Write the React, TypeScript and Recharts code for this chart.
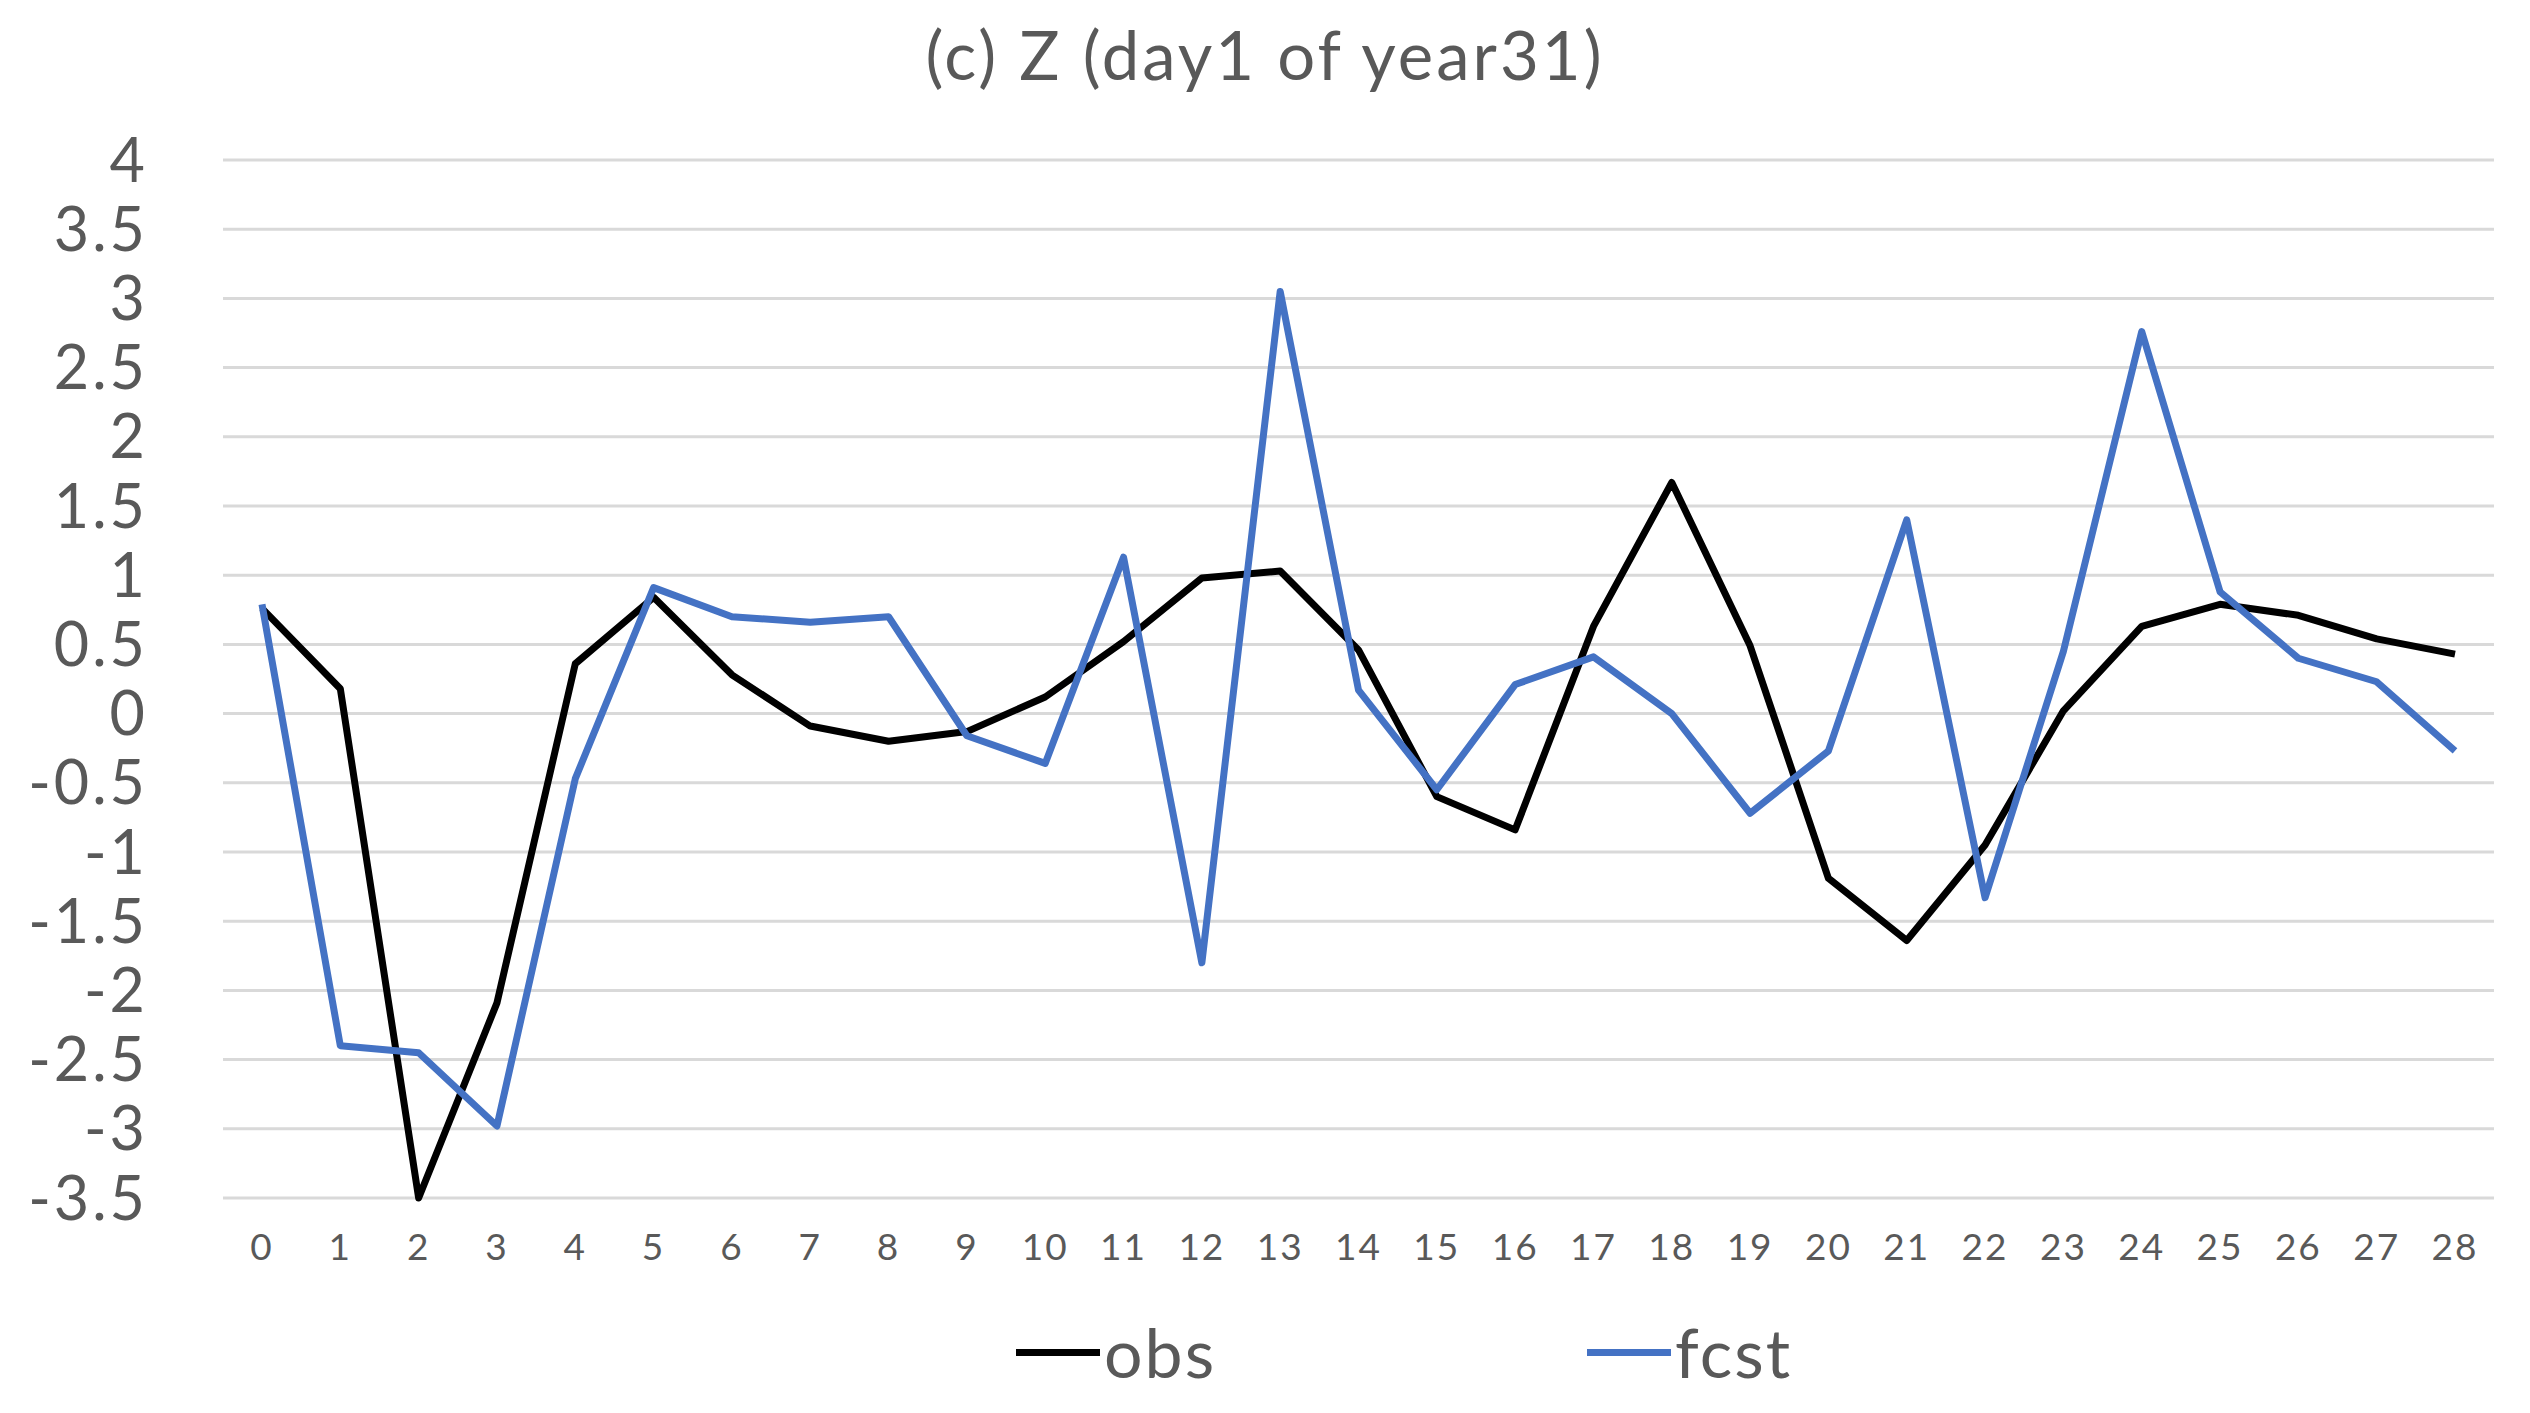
import { CartesianGrid, Legend, Line, LineChart, XAxis, YAxis } from "recharts";

const TITLE = "(c) Z (day1 of year31)";

const days = [
  0, 1, 2, 3, 4, 5, 6, 7, 8, 9, 10, 11, 12, 13, 14, 15, 16, 17, 18, 19, 20, 21, 22, 23, 24, 25, 26, 27, 28,
];

const obs = [
  0.76, 0.18, -3.5, -2.09, 0.36, 0.84, 0.28, -0.09, -0.2, -0.13, 0.12, 0.52, 0.98, 1.03, 0.46, -0.6,
  -0.84, 0.63, 1.67, 0.49, -1.19, -1.64, -0.95, 0.02, 0.63, 0.79, 0.71, 0.54, 0.43,
];

const fcst = [
  0.79, -2.4, -2.45, -2.98, -0.47, 0.91, 0.7, 0.66, 0.7, -0.16, -0.36, 1.13, -1.8, 3.05, 0.17, -0.55,
  0.21, 0.41, 0.0, -0.72, -0.27, 1.4, -1.33, 0.45, 2.76, 0.88, 0.4, 0.23, -0.27,
];

const yTicks = [-3.5, -3, -2.5, -2, -1.5, -1, -0.5, 0, 0.5, 1, 1.5, 2, 2.5, 3, 3.5, 4];

const SERIES_ORDER = ["obs", "fcst"];

const FONT = "Lato, 'Open Sans', sans-serif";
const TEXT = "#595959";
const GRID = "#d9d9d9";
const BLUE = "#4472c4";

const data = days.map((d, i) => ({ day: d, obs: obs[i], fcst: fcst[i] }));

function renderLegend(props: any) {
  const items = [...(props.payload ?? [])].sort(
    (a: any, b: any) => SERIES_ORDER.indexOf(a.value) - SERIES_ORDER.indexOf(b.value)
  );
  return (
    <div style={{ display: "flex", paddingLeft: 1016, gap: 371, fontFamily: FONT }}>
      {items.map((it: any) => (
        <div key={it.value} style={{ display: "flex", alignItems: "center" }}>
          <span style={{ width: 84, height: 7, background: it.color, display: "inline-block", marginRight: 4 }} />
          <span style={{ fontSize: 68, letterSpacing: 2, color: TEXT, lineHeight: 1 }}>{it.value}</span>
        </div>
      ))}
    </div>
  );
}

export default function App() {
  return (
    <div style={{ position: "absolute", left: 0, top: 0, width: 2530, height: 1413, background: "#fff" }}>
      <div
        style={{
          position: "absolute",
          top: 18,
          left: 0,
          width: 2530,
          textAlign: "center",
          fontFamily: FONT,
          fontSize: 67,
          letterSpacing: 3,
          color: TEXT,
          lineHeight: 1.1,
        }}
      >
        {TITLE}
      </div>
      <LineChart
        width={2530}
        height={1413}
        data={data}
        margin={{ top: 160, right: 36, bottom: 117, left: 0 }}
      >
        <CartesianGrid stroke={GRID} strokeWidth={3} vertical={false} />
        <XAxis
          dataKey="day"
          tickLine={false}
          axisLine={false}
          tickSize={0}
          tickMargin={36}
          interval={0}
          padding={{ left: 39, right: 39 }}
          tick={{ fill: TEXT, fontSize: 37, fontFamily: FONT, letterSpacing: 2 }}
        />
        <YAxis
          type="number"
          domain={[-3.5, 4]}
          ticks={yTicks}
          interval={0}
          width={223}
          tickLine={false}
          axisLine={false}
          tickSize={0}
          tickMargin={75}
          tick={{ fill: TEXT, fontSize: 61, fontFamily: FONT, letterSpacing: 3 }}
        />
        <Legend
          content={renderLegend}
          wrapperStyle={{ top: 1318, left: 0, width: 2530 }}
        />
        <Line
          type="linear"
          dataKey="obs"
          name="obs"
          stroke="#000000"
          strokeWidth={7}
          strokeLinejoin="round"
          dot={false}
          isAnimationActive={false}
        />
        <Line
          type="linear"
          dataKey="fcst"
          name="fcst"
          stroke={BLUE}
          strokeWidth={7}
          strokeLinejoin="round"
          dot={false}
          isAnimationActive={false}
        />
      </LineChart>
    </div>
  );
}
